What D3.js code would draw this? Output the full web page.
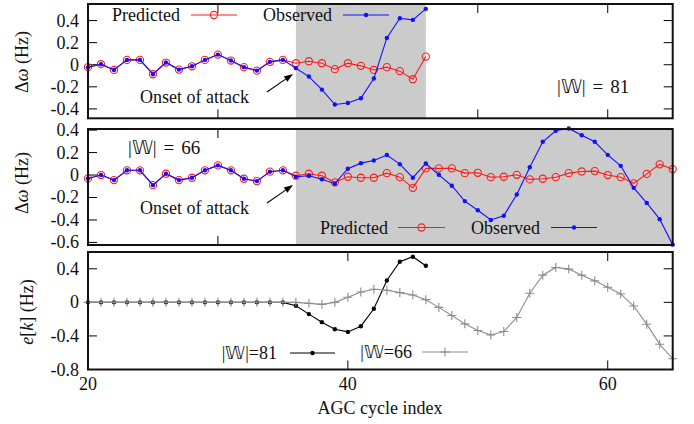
<!DOCTYPE html>
<html>
<head>
<meta charset="utf-8">
<script src="https://cdn.jsdelivr.net/npm/d3@7"></script>
<style>
  html, body { margin: 0; padding: 0; background: #fff; }
  svg { display: block; }
  text { font-family: "Liberation Serif", "Times New Roman", serif; fill: #111; }
</style>
</head>
<body>
<svg id="chart" width="694" height="424"></svg>
<script>
// ---- data -------------------------------------------------------------
// AGC cycle indices
const cyclesShort = d3.range(20, 47);   // 20..46
const cyclesLong  = d3.range(20, 66);   // 20..65

// Panel 1 (|W| = 81): frequency deviation, predicted vs observed
const predicted81 = [-0.022, 0.005, -0.047, 0.044, 0.044, -0.086, 0.020, -0.044, -0.014, 0.044,
                     0.092, 0.038, -0.022, -0.053, 0.026, 0.044,
                     0.014, 0.032, 0.014, -0.040, 0.014, -0.010, -0.047, -0.022, -0.058, -0.131, 0.074];
const observed81  = [-0.022, 0.005, -0.047, 0.044, 0.044, -0.086, 0.020, -0.044, -0.014, 0.044,
                     0.092, 0.038, -0.022, -0.053, 0.026, 0.044,
                     -0.031, -0.107, -0.225, -0.360, -0.346, -0.303, -0.125, 0.243, 0.421, 0.406, 0.506];

// Panel 2 (|W| = 66)
const predicted66 = [-0.030, 0.000, -0.045, 0.042, 0.042, -0.090, 0.012, -0.045, -0.024, 0.042,
                     0.086, 0.042, -0.033, -0.054, 0.030, 0.042,
                     -0.006, 0.012, -0.006, -0.065, -0.015, -0.024, -0.024, 0.017, -0.019, -0.114,
                     0.059, 0.059, 0.059, 0.017, 0.020, -0.019, -0.015, 0.002, -0.039, -0.033,
                     -0.019, 0.017, 0.032, 0.035, 0.000, -0.019, -0.074, 0.010, 0.095, 0.053];
const observed66  = [-0.030, 0.000, -0.045, 0.042, 0.042, -0.090, 0.012, -0.045, -0.024, 0.042,
                     0.086, 0.042, -0.033, -0.054, 0.030, 0.042,
                     -0.015, -0.006, -0.037, -0.077, 0.056, 0.106, 0.130, 0.178, 0.097, -0.024,
                     0.103, 0.002, -0.095, -0.232, -0.313, -0.400, -0.363, -0.173, 0.070, 0.296,
                     0.394, 0.415, 0.355, 0.296, 0.180, 0.082, -0.114, -0.248, -0.393, -0.620];

// Panel 3: estimation error e[k]
const error81 = [0, 0, 0, 0, 0, 0, 0, 0, 0, 0, 0, 0, 0, 0, 0, 0,
                 -0.040, -0.140, -0.236, -0.320, -0.352, -0.284, -0.076, 0.260, 0.484, 0.544, 0.436];
const error66 = [0, 0, 0, 0, 0, 0, 0, 0, 0, 0, 0, 0, 0, 0, 0, 0, 0,
                 -0.012, -0.024, 0.000, 0.060, 0.124, 0.156, 0.144, 0.116, 0.088, 0.032,
                 -0.060, -0.156, -0.256, -0.336, -0.388, -0.348, -0.180, 0.108, 0.324,
                 0.416, 0.396, 0.324, 0.256, 0.180, 0.100, -0.044, -0.260, -0.500, -0.672];

// attack windows (shaded)
const attack81 = [36, 46];
const attack66 = [36, 65];

// tick values
const ticksTop    = [0.4, 0.2, 0, -0.2, -0.4];
const ticksMid    = [0.4, 0.2, 0, -0.2, -0.4, -0.6];
const ticksBottom = [0.4, 0, -0.4, -0.8];
const xTicksMinor = [30, 40, 50, 60];
const xTicksMajor = [20, 40, 60];

// ---- layout -----------------------------------------------------------
const svg = d3.select("#chart");
const FS = 18;
const RED = "#ff1a1a", BLUE = "#1010ff", GRAY = "#8c8c8c", SHADE = "#cbcbcb";

const x = d3.scaleLinear().domain([20, 65]).range([88, 672.7]);

const panels = [
  { y: d3.scaleLinear().domain([-0.485, 0.55]).range([118.3, 4]), ticks: ticksTop, xticks: xTicksMinor },
  { y: d3.scaleLinear().domain([-0.623, 0.41]).range([245, 129]), ticks: ticksMid, xticks: xTicksMinor },
  { y: d3.scaleLinear().domain([-0.8, 0.6]).range([369.5, 252]), ticks: ticksBottom, xticks: [40, 60] }
];

const fmt = v => (v === 0 ? "0" : d3.format(".1f")(v).replace("−", "-"));

function drawFrameBase(p) {
  const g = svg.append("g");
  const [x0, x1] = x.range();
  const [yb, yt] = p.y.range();
  // y ticks, left and right
  p.ticks.forEach(t => {
    const yy = p.y(t);
    g.append("line").attr("x1", x0).attr("x2", x0 + 9).attr("y1", yy).attr("y2", yy)
      .attr("stroke", "#000").attr("stroke-width", 1);
    g.append("line").attr("x1", x1 - 9).attr("x2", x1).attr("y1", yy).attr("y2", yy)
      .attr("stroke", "#000").attr("stroke-width", 1);
    g.append("text").attr("x", 79).attr("y", yy).attr("text-anchor", "end")
      .attr("dominant-baseline", "central").attr("font-size", FS).text(fmt(t));
  });
  // x ticks, top and bottom
  p.xticks.forEach(t => {
    const xx = x(t);
    g.append("line").attr("x1", xx).attr("x2", xx).attr("y1", yt).attr("y2", yt + 9)
      .attr("stroke", "#000").attr("stroke-width", 1);
    g.append("line").attr("x1", xx).attr("x2", xx).attr("y1", yb - 9).attr("y2", yb)
      .attr("stroke", "#000").attr("stroke-width", 1);
  });
  return g;
}

function shade(p, span) {
  const [yb, yt] = p.y.range();
  svg.append("rect").attr("x", x(span[0])).attr("y", yt)
    .attr("width", x(span[1]) - x(span[0])).attr("height", yb - yt)
    .attr("fill", SHADE);
}

function border(p) {
  const [x0, x1] = x.range();
  const [yb, yt] = p.y.range();
  svg.append("rect").attr("x", x0).attr("y", yt).attr("width", x1 - x0).attr("height", yb - yt)
    .attr("fill", "none").attr("stroke", "#111").attr("stroke-width", 2);
}

function series(p, xsArr, ys, color, marker) {
  const pts = xsArr.map((c, i) => [x(c), p.y(ys[i])]);
  svg.append("path").attr("d", d3.line()(pts)).attr("fill", "none")
    .attr("stroke", color).attr("stroke-width", 1.1);
  pts.forEach(([px, py]) => marker(px, py, color));
}

const openCircle = (px, py, c) => svg.append("circle").attr("cx", px).attr("cy", py).attr("r", 3.6)
  .attr("fill", "none").attr("stroke", c).attr("stroke-width", 1.1);
const dot = (px, py, c) => svg.append("circle").attr("cx", px).attr("cy", py).attr("r", 2.2).attr("fill", c);
const plus = (px, py, c) => svg.append("path")
  .attr("d", `M${px - 4.5},${py}H${px + 4.5}M${px},${py - 4.5}V${py + 4.5}`)
  .attr("stroke", c).attr("stroke-width", 1.1);

function legendEntry(label, textEnd, lx0, lx1, ly, color, marker) {
  svg.append("text").attr("x", textEnd).attr("y", ly).attr("text-anchor", "end")
    .attr("dominant-baseline", "central").attr("font-size", FS).text(label);
  svg.append("line").attr("x1", lx0).attr("x2", lx1).attr("y1", ly).attr("y2", ly)
    .attr("stroke", color).attr("stroke-width", 1.1);
  marker((lx0 + lx1) / 2, ly, color);
}

function arrow(x0, y0, x1, y1) {
  const ang = Math.atan2(y1 - y0, x1 - x0);
  const L = 9, W = 3.2;
  const bx = x1 - L * Math.cos(ang), by = y1 - L * Math.sin(ang);
  svg.append("line").attr("x1", x0).attr("y1", y0).attr("x2", bx).attr("y2", by)
    .attr("stroke", "#000").attr("stroke-width", 1.1);
  const nx = -Math.sin(ang) * W, ny = Math.cos(ang) * W;
  svg.append("path").attr("d", `M${x1},${y1}L${bx + nx},${by + ny}L${bx - nx},${by - ny}Z`)
    .attr("fill", "#000");
}

// set-size label with wide spacing around "="
function setLabel(lx, ly, n) {
  const t = svg.append("text").attr("x", lx).attr("y", ly)
    .attr("dominant-baseline", "central").attr("font-size", 19);
  t.append("tspan").text("|𝕎|");
  t.append("tspan").attr("dx", 7).text("=");
  t.append("tspan").attr("dx", 7).text(n);
}

// ---- panel 1 ----------------------------------------------------------
const p1 = panels[0];
drawFrameBase(p1);
shade(p1, attack81);
series(p1, cyclesShort, predicted81, RED, openCircle);
series(p1, cyclesShort, observed81, BLUE, dot);
legendEntry("Predicted", 180, 191, 237, 15, RED, openCircle);
legendEntry("Observed", 332, 343, 389, 15, BLUE, dot);
setLabel(557, 86, "81");
svg.append("text").attr("x", 140).attr("y", 97).attr("dominant-baseline", "central")
  .attr("font-size", FS).text("Onset of attack");
arrow(267, 92, 293, 74);
border(p1);

// ---- panel 2 ----------------------------------------------------------
const p2 = panels[1];
drawFrameBase(p2);
shade(p2, attack66);
series(p2, cyclesLong, predicted66, RED, openCircle);
series(p2, cyclesLong, observed66, BLUE, dot);
legendEntry("Predicted", 388, 398, 445, 227.5, RED, openCircle);
legendEntry("Observed", 540, 551, 597, 227.5, BLUE, dot);
setLabel(128, 147, "66");
svg.append("text").attr("x", 140).attr("y", 208).attr("dominant-baseline", "central")
  .attr("font-size", FS).text("Onset of attack");
arrow(267, 203, 293, 185);
border(p2);

// ---- panel 3 ----------------------------------------------------------
const p3 = panels[2];
drawFrameBase(p3);
series(p3, cyclesShort, error81, "#000", dot);
series(p3, cyclesLong, error66, GRAY, plus);
legendEntry("|𝕎|=81", 277, 290, 335, 353, "#000", dot);
legendEntry("|𝕎=66", 412, 422, 468, 352, GRAY, plus);
border(p3);

// x tick labels (bottom panel)
xTicksMajor.forEach(t => {
  svg.append("text").attr("x", x(t)).attr("y", 384).attr("text-anchor", "middle")
    .attr("dominant-baseline", "central").attr("font-size", FS).text(t);
});
svg.append("text").attr("x", 380).attr("y", 408).attr("text-anchor", "middle")
  .attr("dominant-baseline", "central").attr("font-size", FS).text("AGC cycle index");

// y axis titles
function yTitle(cx, cy, build) {
  const t = svg.append("text").attr("transform", `translate(${cx},${cy}) rotate(-90)`)
    .attr("text-anchor", "middle").attr("dominant-baseline", "central").attr("font-size", FS);
  build(t);
}
yTitle(22, 62, t => { t.append("tspan").text("Δ"); t.append("tspan").attr("font-style", "italic").text("ω"); t.append("tspan").text(" (Hz)"); });
yTitle(22, 183, t => { t.append("tspan").text("Δ"); t.append("tspan").attr("font-style", "italic").text("ω"); t.append("tspan").text(" (Hz)"); });
yTitle(27, 312, t => {
  t.append("tspan").attr("font-style", "italic").text("e");
  t.append("tspan").text("[");
  t.append("tspan").attr("font-style", "italic").text("k");
  t.append("tspan").text("] (Hz)");
});
</script>
</body>
</html>
